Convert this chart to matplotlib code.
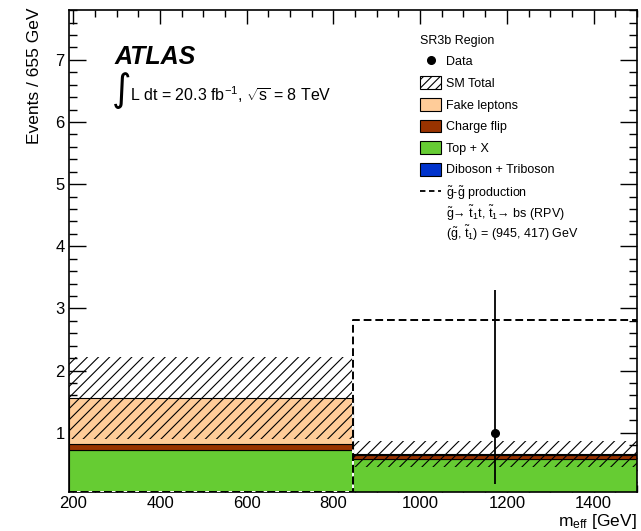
import numpy as np
import matplotlib
matplotlib.use("Agg")
import matplotlib.pyplot as plt
from matplotlib.patches import Patch
from matplotlib.lines import Line2D
from matplotlib.ticker import MultipleLocator

plt.rcParams["font.family"] = ["Liberation Sans", "DejaVu Sans"]
plt.rcParams["mathtext.fontset"] = "custom"
plt.rcParams["mathtext.rm"] = "Liberation Sans"
plt.rcParams["mathtext.it"] = "Liberation Sans:italic"
plt.rcParams["mathtext.bf"] = "Liberation Sans:bold"
plt.rcParams["hatch.linewidth"] = 0.8

# m_eff binning (GeV)
bin_edges = [190, 845, 1500]

# Background stack (events per bin), bottom to top
diboson = [0.02, 0.01]
top_x = [0.70, 0.56]
charge_flip = [0.10, 0.07]
fake_leptons = [0.74, 0.02]
sm_uncertainty = [0.66, 0.21]

# Signal: gluino pair production, (945, 417) GeV
signal = [0.0, 2.81]

# Observed data
data_x = [1172.5]
data_y = [1.0]
data_err_low = [0.83]
data_err_high = [2.30]

colors = {
    "diboson": "#0033cc",
    "top": "#66cc33",
    "charge": "#993300",
    "fake": "#ffcc99",
}

y_min, y_max = 0.05, 7.8

edges = np.array(bin_edges, dtype=float)
centers = 0.5 * (edges[:-1] + edges[1:])
widths = np.diff(edges)

fig = plt.figure(figsize=(6.41, 5.31), dpi=100)
ax = fig.add_axes([0.1076, 0.074, 0.886, 0.907])

# Stacked backgrounds
bottom = np.zeros(len(centers))
for vals, col in [(diboson, colors["diboson"]), (top_x, colors["top"]),
                  (charge_flip, colors["charge"]), (fake_leptons, colors["fake"])]:
    vals = np.array(vals)
    ax.bar(centers, vals, width=widths, bottom=bottom, color=col,
           edgecolor="black", linewidth=0.8, zorder=2)
    bottom = bottom + vals
sm_total = bottom

# SM total uncertainty band
unc = np.array(sm_uncertainty)
ax.bar(centers, 2 * unc, width=widths, bottom=sm_total - unc,
       facecolor="none", edgecolor="black", hatch="///", linewidth=0, zorder=3)

# Signal histogram outline (empty bins drawn on the frame floor)
sig_drawn = np.maximum(np.array(signal), y_min)
ax.step(edges, list(sig_drawn) + [sig_drawn[-1]], where="post", color="black",
        linewidth=1.4, linestyle=(0, (4, 2)), gapcolor="white", zorder=4)

# Data
ax.errorbar(data_x, data_y, yerr=[data_err_low, data_err_high], fmt="o",
            color="black", markersize=5.5, elinewidth=1.3, capsize=0, zorder=5)

ax.set_xlim(190, 1500)
ax.set_ylim(y_min, y_max)
ax.xaxis.set_major_locator(MultipleLocator(200))
ax.xaxis.set_minor_locator(MultipleLocator(50))
ax.yaxis.set_major_locator(MultipleLocator(1))
ax.yaxis.set_minor_locator(MultipleLocator(0.2))
ax.tick_params(which="both", direction="in", top=True, right=True, labelsize=12)
ax.tick_params(axis="x", which="major", length=10, width=1, pad=3)
ax.tick_params(axis="x", which="minor", length=5, width=1)
ax.tick_params(axis="y", which="major", length=12, width=1, pad=3)
ax.tick_params(axis="y", which="minor", length=6, width=1)
for sp in ax.spines.values():
    sp.set_linewidth(1.2)

ax.set_ylabel("Events / 655 GeV", fontsize=12.5, loc="top")
ax.yaxis.set_label_coords(-0.047, 1.006)
ax.set_xlabel(r"m$_{\mathrm{eff}}$ [GeV]", fontsize=12.5, loc="right")
ax.xaxis.set_label_coords(1.0, -0.042)

# Experiment label
ax.text(0.081, 0.889, "ATLAS", transform=ax.transAxes, fontsize=18,
        fontweight="bold", fontstyle="italic", va="baseline", ha="left")
ax.text(0.076, 0.812, "\u222b", transform=ax.transAxes, fontsize=27,
        family="DejaVu Sans", va="baseline", ha="left")
ax.text(0.108, 0.812, r"L dt = 20.3 fb$^{\mathrm{-1}}$, $\sqrt{\mathrm{s}}$ = 8 TeV",
        transform=ax.transAxes, fontsize=11.5, va="baseline", ha="left")

# Legend
handles = [
    Line2D([], [], marker="o", linestyle="none", color="black", markersize=5.5),
    Patch(facecolor="white", edgecolor="black", hatch="////", linewidth=0.8),
    Patch(facecolor=colors["fake"], edgecolor="black", linewidth=0.8),
    Patch(facecolor=colors["charge"], edgecolor="black", linewidth=0.8),
    Patch(facecolor=colors["top"], edgecolor="black", linewidth=0.8),
    Patch(facecolor=colors["diboson"], edgecolor="black", linewidth=0.8),
    Line2D([], [], color="black", linewidth=1.3, linestyle=(0, (3, 2))),
]
labels = [
    "Data",
    "SM Total",
    "Fake leptons",
    "Charge flip",
    "Top + X",
    "Diboson + Triboson",
    r"$\tilde{\mathrm{g}}$-$\tilde{\mathrm{g}}$ production",
]
leg = ax.legend(handles, labels, loc="upper left", bbox_to_anchor=(0.618, 0.949),
                frameon=False, fontsize=9, title="SR3b Region", title_fontsize=9,
                alignment="left", handlelength=1.7, handleheight=1.2,
                labelspacing=0.64, handletextpad=0.35, borderpad=0, borderaxespad=0)

# Signal model description under the legend
ax.text(0.6637, 0.5786,
        r"$\tilde{\mathrm{g}}$→ $\tilde{\mathrm{t}}_{1}$t, $\tilde{\mathrm{t}}_{1}$→ bs (RPV)",
        transform=ax.transAxes, fontsize=9, va="center", ha="left")
ax.text(0.6637, 0.5370,
        r"($\tilde{\mathrm{g}}$, $\tilde{\mathrm{t}}_{1}$) = (945, 417) GeV",
        transform=ax.transAxes, fontsize=9, va="center", ha="left")

fig.savefig("out.png", dpi=100)
